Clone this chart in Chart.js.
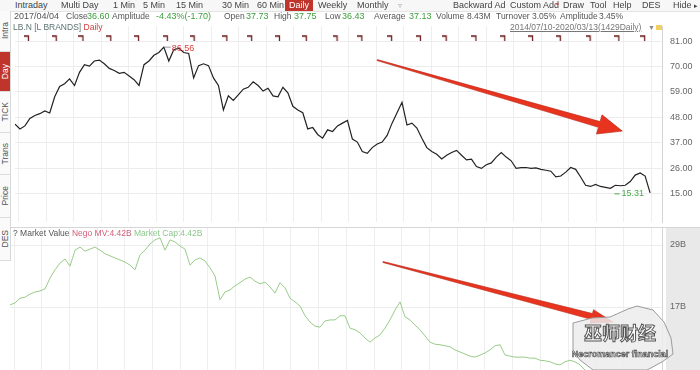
<!DOCTYPE html>
<html>
<head>
<meta charset="utf-8">
<script src="https://cdn.jsdelivr.net/npm/chart.js@4.4.0/dist/chart.umd.min.js"></script>
<style>
  body { margin: 0; width: 700px; height: 370px; overflow: hidden; background: #fff; position: relative;
         font-family: "Liberation Sans", Arial, sans-serif; color: #555; }
  .t { position: absolute; white-space: nowrap; line-height: 11px; font-size: 8.5px; z-index: 3; }
  .bar { position: absolute; left: 0; top: 0; width: 700px; height: 11px; background: #f7f7f7; border-bottom: 1px solid #e4e4e4; }
  .tb { font-size: 9px; color: #444; top: 0; }
  .g { color: #3e9e3e; font-size: 9px; }
  .side { position: absolute; left: 0; top: 11px; width: 10px; height: 250px; border-right: 1px solid #d8d8d8; background: #fafafa; z-index: 2; }
  .tab { position: absolute; left: 0; width: 10px; display: flex; align-items: center; justify-content: center;
         border-bottom: 1px solid #dcdcdc; font-size: 8.5px; color: #555; }
  .tab span { writing-mode: vertical-rl; transform: rotate(180deg); }
  canvas { position: absolute; z-index: 1; }
</style>
</head>
<body>
<div class="bar"></div>
<span class="t tb" style="left:15px">Intraday</span>
<span class="t tb" style="left:61px">Multi Day</span>
<span class="t tb" style="left:113px">1 Min</span>
<span class="t tb" style="left:143px">5 Min</span>
<span class="t tb" style="left:176px">15 Min</span>
<span class="t tb" style="left:222px">30 Min</span>
<span class="t tb" style="left:257px">60 Min</span>
<span class="t tb" style="left:285px;width:28px;height:11px;background:#c0352b;color:#fff;text-align:center">Daily</span>
<span class="t tb" style="left:318px">Weekly</span>
<span class="t tb" style="left:357px">Monthly</span>
<span class="t tb" style="left:398px;color:#aaa;font-size:8px">&#9663;</span>
<span class="t tb" style="left:453px">Backward Ad</span>
<span class="t tb" style="left:510px">Custom Add</span>
<span class="t tb" style="left:556px;color:#d33;font-size:8px;top:-2px">&#8226;</span>
<span class="t tb" style="left:563px">Draw</span>
<span class="t tb" style="left:590px">Tool</span>
<span class="t tb" style="left:613px">Help</span>
<span class="t tb" style="left:642px">DES</span>
<span class="t tb" style="left:673px">Hide</span>
<span class="t tb" style="left:694px;font-size:7px">&#9656;</span>

<span class="t" style="left:14px;top:11px;font-size:9px">2017/04/04</span>
<span class="t" style="left:66px;top:11px">Close</span>
<span class="t g" style="left:87px;top:11px">36.60</span>
<span class="t" style="left:112px;top:11px">Amplitude</span>
<span class="t g" style="left:156px;top:11px">-4.43%(-1.70)</span>
<span class="t" style="left:224px;top:11px">Open</span>
<span class="t g" style="left:246px;top:11px">37.73</span>
<span class="t" style="left:274px;top:11px">High</span>
<span class="t g" style="left:294px;top:11px">37.75</span>
<span class="t" style="left:325px;top:11px">Low</span>
<span class="t g" style="left:342px;top:11px">36.43</span>
<span class="t" style="left:374px;top:11px">Average</span>
<span class="t g" style="left:409px;top:11px">37.13</span>
<span class="t" style="left:436px;top:11px">Volume</span>
<span class="t" style="left:467px;top:11px">8.43M</span>
<span class="t" style="left:496px;top:11px">Turnover</span>
<span class="t" style="left:532px;top:11px">3.05%</span>
<span class="t" style="left:560px;top:11px">Amplitude</span>
<span class="t" style="left:599px;top:11px">3.45%</span>

<div class="side">
  <div class="tab" style="top:0;height:40px"><span>Intra</span></div>
  <div class="tab" style="top:41px;height:39px;background:#c0352b;color:#fff"><span>Day</span></div>
  <div class="tab" style="top:81px;height:40px"><span>TICK</span></div>
  <div class="tab" style="top:122px;height:41px"><span>Trans</span></div>
  <div class="tab" style="top:164px;height:42px"><span>Price</span></div>
  <div class="tab" style="top:207px;height:42px"><span>DES</span></div>
</div>

<span class="t" style="left:13px;top:22px;color:#5d7373">LB.N [L BRANDS] <span style="color:#d04040">Daily</span></span>
<span class="t" style="left:510px;top:22px;color:#777;text-decoration:underline">2014/07/10-2020/03/13(1429Daily)</span>
<span class="t" style="left:648px;top:22px;color:#888;font-size:7px">&#9660;</span>
<span class="t" style="left:656px;top:25px;width:6px;height:5px;background:#f0d060"></span>

<div style="position:absolute;left:10px;top:227px;width:690px;height:1px;background:#d6d6d6;z-index:2"></div>
<div style="position:absolute;left:666px;top:228px;width:34px;height:142px;background:#e9e9e9"></div>
<span class="t" style="left:13px;top:228px;color:#555">? Market Value <span style="color:#d0607a">Nego MV:4.42B</span> <span style="color:#8cc88c">Market Cap:4.42B</span></span>

<canvas id="price" width="690" height="206" style="left:10px;top:21px"></canvas>
<canvas id="mv" width="690" height="142" style="left:10px;top:228px"></canvas>

<svg style="position:absolute;left:0;top:0;z-index:4" width="700" height="370">
  <path d="M573,323 L592,318 L610,317 L628,309 L637,306 L653,310 L664,322 L671,338 L673,354 L662,362 L647,370 L593,370 L580,360 L573,350 Z"
        fill="rgba(236,236,236,0.85)" stroke="#9a9a9a" stroke-width="1"/>
  <text x="620" y="340" text-anchor="middle" font-family="Noto Sans CJK SC" font-weight="bold" font-size="18"
        fill="#fff" stroke="#555" stroke-width="1">巫师财经</text>
  <text x="620" y="357" text-anchor="middle" font-family="Liberation Sans" font-weight="bold" font-size="9"
        fill="#fff" stroke="#555" stroke-width="0.7">Necromancer financial</text>
</svg>

<script>
// Cours LB.N (axe droit, échelle du graphique) – un point tous les 5 px
const priceTicks = [15, 26, 37, 48, 59, 70, 81];
const price = [
  45.1, 43.0, 44.3, 47.5, 48.8, 49.6, 50.8, 49.9, 56.9, 61.4,
  62.6, 64.7, 61.8, 67.5, 70.8, 70.2, 72.4, 72.8, 71.2, 69.2,
  68.3, 67.1, 67.5, 65.9, 64.3, 61.8, 70.8, 72.4, 74.9, 76.1,
  78.4, 72.4, 77.3, 78.0, 76.1, 75.7, 65.1, 70.4, 71.2, 70.4,
  65.1, 61.8, 51.2, 57.3, 55.3, 57.7, 60.2, 61.0, 63.4, 61.8,
  59.4, 60.6, 57.3, 56.9, 61.0, 58.6, 52.8, 51.2, 50.0, 43.0,
  43.6, 40.6, 39.0, 42.6, 41.9, 44.3, 45.5, 46.7, 38.6, 37.3,
  33.2, 32.4, 34.9, 36.5, 37.3, 40.2, 45.5, 50.0, 54.5, 44.7,
  45.5, 43.4, 39.0, 34.9, 33.2, 32.0, 30.0, 31.6, 32.8, 33.7,
  31.6, 29.6, 29.9, 26.7, 25.9, 27.5, 28.3, 30.8, 32.8, 30.8,
  29.2, 25.9, 26.2, 26.3, 25.9, 26.1, 25.5, 25.1, 24.7, 22.2,
  22.6, 24.3, 26.3, 25.5, 22.2, 18.6, 18.1, 19.0, 18.1, 17.7,
  17.3, 18.6, 18.4, 18.6, 20.2, 23.0, 23.9, 22.6, 15.31
];
// Capitalisation boursière (milliards)
const mvTicks = [17, 29];
const marketCap = [
  17.4, 17.8, 18.7, 18.9, 19.5, 19.9, 20.1, 20.5, 22.6, 24.2,
  25.5, 26.3, 24.9, 28.0, 28.6, 27.8, 28.2, 28.6, 28.0, 27.3,
  26.9, 26.5, 26.1, 25.7, 25.1, 24.2, 27.1, 28.0, 29.2, 30.0,
  30.4, 28.0, 30.0, 29.6, 28.8, 28.2, 25.1, 26.1, 26.5, 25.9,
  24.6, 23.0, 18.4, 19.9, 20.3, 21.1, 21.7, 22.4, 22.8, 22.0,
  21.5, 21.8, 20.9, 19.7, 21.7, 20.7, 18.7, 18.0, 17.2, 15.3,
  14.1, 13.3, 13.1, 14.3, 14.5, 14.5, 15.3, 15.3, 12.9, 12.6,
  12.0, 11.0, 10.2, 11.0, 11.6, 12.9, 14.5, 16.4, 18.0, 15.1,
  14.5, 13.5, 12.6, 11.4, 10.2, 9.8, 9.7, 9.5, 9.3, 8.7,
  8.3, 7.9, 7.5, 7.3, 7.7, 8.1, 8.7, 9.5, 9.7, 7.7,
  7.5, 7.3, 7.3, 7.3, 7.1, 7.1, 6.7, 6.6, 6.4, 6.0,
  5.8, 6.4, 6.7, 6.4, 5.8, 4.8, 4.0, 3.7, 3.5, 3.3,
  3.1, 3.3, 3.3, 3.3, 3.7, 4.4, 4.6, 4.2, 2.5
];
// Repères d'événements (positions dans la série)
const eventIdx = [2.4, 8, 13.4, 19, 24.6, 30.4, 35.8, 42.4, 47.4, 53, 58.4, 64.6,
                  69.6, 75.6, 81.4, 86.6, 92.6, 98.4, 104, 109.6, 115.6, 121.4, 126.6];
const peakLabel = '86.56';
const lowLabel = '15.31';
// Flèches rouges : [x départ, y départ, x pointe, y pointe] en unités des axes
const priceArrow = [73, 72.8, 122.4, 42.05];
const mvArrow = [74.6, 25.71, 120.6, 14.1];

const FONT = 'Liberation Sans';
const pts = arr => arr.map((v, i) => ({ x: i, y: v }));

function xAxis() {
  return {
    type: 'linear', min: 0, max: 130.4,
    ticks: { display: false },
    grid: { color: '#eeeeee', drawTicks: false },
    border: { display: false },
    afterBuildTicks: axis => {
      const t = [];
      for (let v = 0.8; v < 130.4; v += 5.54) t.push({ value: v });
      axis.ticks = t;
    }
  };
}

function yAxis(min, max, ticks, fmt) {
  return {
    position: 'right', min, max,
    afterBuildTicks: axis => { axis.ticks = ticks.map(v => ({ value: v })); },
    afterFit: axis => { axis.width = 38; axis.paddingTop = 0; axis.paddingBottom = 0; },
    ticks: { color: '#666', padding: 8, font: { size: 9, family: FONT }, callback: fmt },
    grid: { color: '#ececec', drawTicks: false },
    border: { display: true, color: '#d4d4d4' }
  };
}

function arrowPlugin(id, a, headLen, headHalf) {
  return {
    id,
    afterDatasetsDraw(chart) {
      const { ctx, scales: { x, y } } = chart;
      const x1 = x.getPixelForValue(a[0]), y1 = y.getPixelForValue(a[1]);
      const x2 = x.getPixelForValue(a[2]), y2 = y.getPixelForValue(a[3]);
      const len = Math.hypot(x2 - x1, y2 - y1);
      const ux = (x2 - x1) / len, uy = (y2 - y1) / len;
      const nx = -uy, ny = ux;
      const bx = x2 - ux * headLen, by = y2 - uy * headLen;
      ctx.save();
      ctx.beginPath();
      ctx.moveTo(x1 + nx * 0.5, y1 + ny * 0.5);
      ctx.lineTo(bx + nx * 3, by + ny * 3);
      ctx.lineTo(bx + nx * headHalf, by + ny * headHalf);
      ctx.lineTo(x2, y2);
      ctx.lineTo(bx - nx * headHalf, by - ny * headHalf);
      ctx.lineTo(bx - nx * 3, by - ny * 3);
      ctx.lineTo(x1 - nx * 0.5, y1 - ny * 0.5);
      ctx.closePath();
      ctx.fillStyle = '#e8341f';
      ctx.strokeStyle = '#b52314';
      ctx.lineWidth = 0.6;
      ctx.fill();
      ctx.stroke();
      ctx.restore();
    }
  };
}

// libellés du plus haut / plus bas
const extremaPlugin = {
  id: 'extrema',
  afterDatasetsDraw(chart) {
    const { ctx, scales: { x, y } } = chart;
    const iMax = price.indexOf(Math.max(...price));
    const iMin = price.indexOf(Math.min(...price));
    ctx.save();
    ctx.font = '9px ' + FONT;
    ctx.textBaseline = 'middle';
    let px = x.getPixelForValue(iMax), py = y.getPixelForValue(price[iMax]);
    ctx.strokeStyle = '#999'; ctx.lineWidth = 1;
    ctx.beginPath(); ctx.moveTo(px + 1, py); ctx.lineTo(px + 7, py); ctx.stroke();
    ctx.fillStyle = '#d84040'; ctx.textAlign = 'left';
    ctx.fillText(peakLabel, px + 8, py + 1);
    px = x.getPixelForValue(iMin); py = y.getPixelForValue(price[iMin]);
    ctx.fillStyle = '#4aa84a'; ctx.textAlign = 'right';
    ctx.fillText(lowLabel, px - 6, py + 1);
    const w = ctx.measureText(lowLabel).width;
    ctx.strokeStyle = '#4aa84a';
    ctx.beginPath(); ctx.moveTo(px - 13 - w, py + 1); ctx.lineTo(px - 8 - w, py + 1); ctx.stroke();
    ctx.restore();
  }
};

// petit drapeau pour les événements
const flag = document.createElement('canvas');
flag.width = 6; flag.height = 6;
const fc = flag.getContext('2d');
fc.strokeStyle = '#6e1f1f'; fc.lineWidth = 1.3;
fc.beginPath(); fc.moveTo(0, 1); fc.lineTo(4.5, 1); fc.lineTo(4.5, 6); fc.stroke();

new Chart(document.getElementById('price'), {
  type: 'line',
  data: {
    datasets: [
      {
        label: 'LB.N',
        data: pts(price),
        borderColor: '#222',
        borderWidth: 1.2,
        pointRadius: 0,
        tension: 0
      },
      {
        type: 'scatter',
        label: 'events',
        data: eventIdx.map(v => ({ x: v, y: 82.3 })),
        pointStyle: flag,
        pointRadius: 3
      }
    ]
  },
  options: {
    responsive: false,
    devicePixelRatio: 1,
    animation: false,
    layout: { padding: 0 },
    plugins: { legend: { display: false }, tooltip: { enabled: false } },
    scales: {
      x: xAxis(),
      y: yAxis(2.7, 87.56, priceTicks, v => v.toFixed(2))
    }
  },
  plugins: [arrowPlugin('arrowTop', priceArrow, 24, 10), extremaPlugin]
});

new Chart(document.getElementById('mv'), {
  type: 'line',
  data: {
    datasets: [
      {
        label: 'Market Cap',
        data: pts(marketCap),
        borderColor: '#98cc88',
        borderWidth: 1,
        pointRadius: 0,
        tension: 0
      }
    ]
  },
  options: {
    responsive: false,
    devicePixelRatio: 1,
    animation: false,
    layout: { padding: 0 },
    plugins: { legend: { display: false }, tooltip: { enabled: false } },
    scales: {
      x: xAxis(),
      y: yAxis(4.81, 32.29, mvTicks, v => v + 'B')
    }
  },
  plugins: [arrowPlugin('arrowBottom', mvArrow, 22, 7)]
});
</script>
</body>
</html>
